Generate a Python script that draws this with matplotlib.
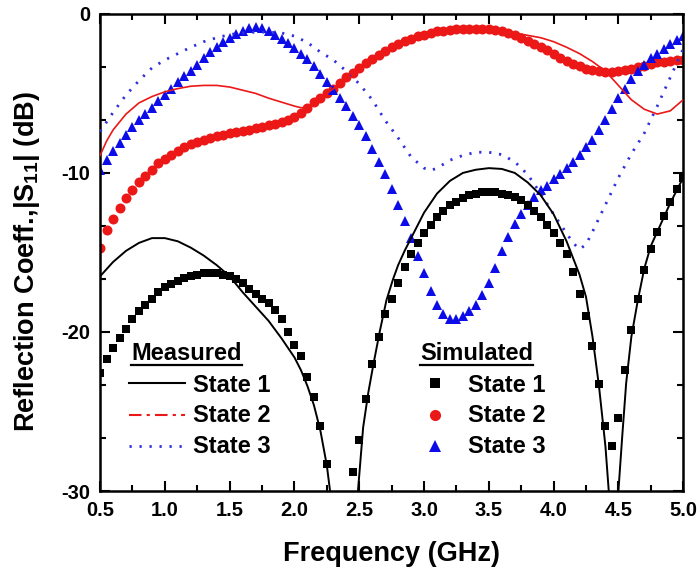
import numpy as np
import matplotlib
matplotlib.use("Agg")
import matplotlib.pyplot as plt
from matplotlib.ticker import MultipleLocator, AutoMinorLocator, FormatStrFormatter
from matplotlib.lines import Line2D

plt.rcParams["font.family"] = ["Liberation Sans", "DejaVu Sans"]
plt.rcParams["font.weight"] = "bold"
plt.rcParams["axes.unicode_minus"] = False
plt.rcParams["mathtext.fontset"] = "custom"
plt.rcParams["mathtext.rm"] = "Liberation Sans:bold"
plt.rcParams["mathtext.bf"] = "Liberation Sans:bold"
plt.rcParams["mathtext.it"] = "Liberation Sans:bold:italic"

# ---------------- simulated |S11| (dB), sweep 0.5 - 5.0 GHz, 0.05 GHz step
sim_freq = np.linspace(0.5, 5.0, 91)

sim_state1 = [
    -22.6, -21.7, -21.0, -20.4, -19.8, -19.2, -18.7, -18.3, -17.9, -17.5,
    -17.2, -17.0, -16.8, -16.6, -16.5, -16.4, -16.3, -16.3, -16.3, -16.4,
    -16.5, -16.7, -16.9, -17.3, -17.6, -17.9, -18.2, -18.6, -19.2, -20.0,
    -20.8, -21.5, -22.8, -24.1, -25.9, -28.3, -31.5, -34.0, -32.0, -28.8,
    -26.8, -24.2, -22.0, -20.3, -18.9, -17.9, -16.9, -15.9, -15.1, -14.4,
    -13.8, -13.3, -12.8, -12.4, -12.0, -11.8, -11.6, -11.4, -11.3, -11.2,
    -11.2, -11.2, -11.3, -11.4, -11.5, -11.7, -12.0, -12.4, -12.8, -13.3,
    -13.8, -14.4, -15.1, -16.2, -17.6, -19.0, -20.9, -23.3, -25.9, -27.2,
    -25.4, -22.4, -19.9, -17.9, -16.1, -14.8, -13.7, -12.7, -11.8, -11.0,
    -10.3,
]

sim_state2 = [
    -14.7, -13.6, -12.9, -12.2, -11.6, -11.1, -10.6, -10.2, -9.8, -9.4,
    -9.1, -8.85, -8.6, -8.4, -8.2, -8.05, -7.9, -7.8, -7.7, -7.6,
    -7.5, -7.45, -7.35, -7.3, -7.2, -7.1, -7.0, -6.9, -6.8, -6.65,
    -6.5, -6.25, -5.9, -5.55, -5.3, -5.0, -4.7, -4.35, -4.0, -3.7,
    -3.4, -3.1, -2.85, -2.6, -2.35, -2.1, -1.9, -1.7, -1.55, -1.4,
    -1.3, -1.2, -1.1, -1.05, -1.0, -0.97, -0.95, -0.94, -0.94, -0.95,
    -0.98, -1.02, -1.1, -1.2, -1.35, -1.5, -1.7, -1.9, -2.1, -2.3,
    -2.5, -2.75, -2.95, -3.15, -3.3, -3.45, -3.55, -3.6, -3.65, -3.65,
    -3.6, -3.55, -3.45, -3.35, -3.25, -3.15, -3.05, -3.0, -2.95, -2.9,
    -2.9,
]

sim_state3 = [
    -9.8, -9.2, -8.6, -8.1, -7.6, -7.1, -6.7, -6.3, -5.9, -5.5,
    -5.1, -4.7, -4.3, -3.9, -3.6, -3.2, -2.8, -2.4, -2.1, -1.8,
    -1.5, -1.25, -1.05, -0.9, -0.85, -0.9, -1.05, -1.3, -1.55, -1.85,
    -2.15, -2.5, -2.85, -3.3, -3.8, -4.3, -4.8, -5.3, -5.8, -6.4,
    -7.0, -7.7, -8.5, -9.3, -10.1, -11.0, -12.0, -13.0, -14.1, -15.2,
    -16.3, -17.4, -18.3, -18.9, -19.2, -19.2, -19.0, -18.7, -18.3, -17.7,
    -16.9, -16.0, -14.9, -14.0, -13.2, -12.6, -12.0, -11.5, -11.1, -10.8,
    -10.4, -10.1, -9.7, -9.3, -8.9, -8.4, -7.9, -7.3, -6.7, -6.0,
    -5.3, -4.7, -4.1, -3.6, -3.2, -2.8, -2.5, -2.2, -1.9, -1.65,
    -1.4,
]

# ---------------- measured |S11| (dB)
meas1_freq = [
    0.50, 0.60, 0.70, 0.80, 0.90, 1.00, 1.10, 1.20, 1.30, 1.40,
    1.50, 1.60, 1.70, 1.80, 1.90, 2.00, 2.05, 2.10, 2.15, 2.20,
    2.25, 2.29, 2.38, 2.48, 2.50, 2.53, 2.57, 2.61, 2.66, 2.71,
    2.76, 2.80, 2.85, 2.90, 2.95, 3.00, 3.05, 3.10, 3.20, 3.30,
    3.40, 3.50, 3.60, 3.70, 3.80, 3.90, 4.00, 4.10, 4.20, 4.25,
    4.30, 4.35, 4.40, 4.43, 4.46, 4.49, 4.50, 4.53, 4.56, 4.60,
    4.65, 4.70, 4.75, 4.80, 4.85, 4.90, 4.95, 5.00,
]
meas1_db = [
    -16.5, -15.6, -14.9, -14.4, -14.1, -14.1, -14.3, -14.7, -15.2, -15.8,
    -16.5, -17.5, -18.4, -19.3, -20.4, -21.6, -22.4, -23.4, -24.6, -26.2,
    -28.4, -31.0, -40.0, -31.0, -29.0, -26.0, -23.8, -22.0, -19.9, -18.0,
    -16.7, -15.8, -14.9, -14.1, -13.3, -12.5, -11.9, -11.3, -10.5, -10.0,
    -9.8, -9.7, -9.75, -10.0, -10.6, -11.4, -12.6, -14.3, -16.4, -17.8,
    -20.3, -23.4, -27.2, -30.5, -35.0, -31.0, -30.0, -26.5, -23.2, -20.3,
    -18.0, -16.0, -14.6, -13.7, -12.8, -11.9, -11.1, -10.3,
]

meas2_freq = [
    0.50, 0.55, 0.60, 0.70, 0.80, 0.90, 1.00, 1.10, 1.20, 1.30,
    1.40, 1.50, 1.60, 1.70, 1.80, 1.90, 2.00, 2.05, 2.10, 2.15,
    2.20, 2.30, 2.40, 2.50, 2.60, 2.70, 2.80, 2.90, 3.00, 3.10,
    3.20, 3.30, 3.40, 3.50, 3.60, 3.70, 3.80, 3.90, 4.00, 4.10,
    4.20, 4.30, 4.40, 4.50, 4.60, 4.70, 4.80, 4.90, 5.00,
]
meas2_db = [
    -8.9, -8.0, -7.3, -6.3, -5.6, -5.2, -4.9, -4.7, -4.55, -4.5,
    -4.5, -4.6, -4.8, -5.0, -5.3, -5.55, -5.8, -5.9, -5.9, -5.6,
    -5.3, -4.7, -4.0, -3.4, -2.85, -2.35, -1.9, -1.55, -1.3, -1.1,
    -1.0, -0.95, -0.93, -0.97, -1.05, -1.2, -1.35, -1.5, -1.75, -2.1,
    -2.5, -3.0, -3.6, -4.5, -5.4, -6.0, -6.3, -6.1, -5.4,
]

meas3_freq = [
    0.50, 0.55, 0.60, 0.70, 0.80, 0.90, 1.00, 1.10, 1.20, 1.30,
    1.40, 1.50, 1.60, 1.70, 1.80, 1.90, 2.00, 2.10, 2.20, 2.30,
    2.40, 2.50, 2.60, 2.70, 2.80, 2.90, 3.00, 3.05, 3.10, 3.20,
    3.30, 3.40, 3.50, 3.60, 3.70, 3.80, 3.90, 4.00, 4.10, 4.15,
    4.20, 4.25, 4.30, 4.40, 4.50, 4.60, 4.70, 4.80, 4.90, 5.00,
]
meas3_db = [
    -7.4, -6.8, -6.2, -5.1, -4.2, -3.4, -2.9, -2.5, -2.1, -1.75,
    -1.5, -1.3, -1.2, -1.15, -1.15, -1.2, -1.4, -1.8, -2.4, -2.9,
    -3.6, -4.4, -5.4, -6.7, -7.8, -9.0, -9.7, -9.85, -9.7, -9.2,
    -8.9, -8.7, -8.7, -8.85, -9.3, -10.1, -11.3, -12.6, -13.8, -14.4,
    -14.8, -14.5, -13.7, -12.0, -10.3, -8.8, -7.5, -5.8, -4.0, -2.2,
]

state_labels = ["State 1", "State 2", "State 3"]

RED = "#ec1717"
BLUE = "#0c0ce8"
DOT_BLUE = "#3030dc"
DOTTED = (0, (0.8, 2.8))
DASHDOT = (0, (6, 2.5, 1.5, 2.5))

fig = plt.figure(figsize=(7.0, 5.77), dpi=100)
ax = fig.add_axes([0.143, 0.149, 0.833, 0.827])

# simulated results as markers
ax.plot(sim_freq, sim_state2, ls="none", marker="o", ms=7.2, color=RED,
        mec=RED, mew=0, zorder=2)
ax.plot(sim_freq, sim_state3, ls="none", marker="^", ms=7.8, color=BLUE,
        mec=BLUE, mew=0, zorder=2)
ax.plot(sim_freq, sim_state1, ls="none", marker="s", ms=5.9, color="black",
        mec="black", mew=0, zorder=3)

# measured results as lines
ax.plot(meas3_freq, meas3_db, color=DOT_BLUE, lw=2.0, ls=DOTTED, zorder=4)
ax.plot(meas2_freq, meas2_db, color=RED, lw=1.2, zorder=4)
ax.plot(meas1_freq, meas1_db, color="black", lw=1.4, zorder=5)

ax.set_xlim(0.5, 5.0)
ax.set_ylim(-30, 0)

ax.xaxis.set_major_locator(MultipleLocator(0.5))
ax.xaxis.set_minor_locator(AutoMinorLocator(2))
ax.xaxis.set_major_formatter(FormatStrFormatter("%.1f"))
ax.yaxis.set_major_locator(MultipleLocator(10))
ax.yaxis.set_minor_locator(AutoMinorLocator(3))
ax.yaxis.set_major_formatter(FormatStrFormatter("%d"))

ax.tick_params(which="both", direction="in", top=True, right=True,
               width=1.5, labelsize=14.5, pad=7)
ax.tick_params(which="major", length=7)
ax.tick_params(which="minor", length=4)
for lab in ax.get_xticklabels() + ax.get_yticklabels():
    lab.set_fontweight("bold")
for sp in ax.spines.values():
    sp.set_linewidth(1.8)

ax.set_xlabel("Frequency (GHz)", fontsize=19.5, fontweight="bold")
ax.set_ylabel(r"Reflection Coeff.,|S$_\mathbf{11}$| (dB)", fontsize=19.5,
              fontweight="bold")
ax.xaxis.set_label_coords(0.5, -0.104)
ax.yaxis.set_label_coords(-0.10, 0.48)

# ---------------- two-column key
LEG_FS = 17
row_text_y = [0.2075, 0.1447, 0.0797]
row_mark_y = [0.2264, 0.1593, 0.0943]

meas_head = ax.text(0.0532, 0.2746, "Measured", transform=ax.transAxes,
                    fontsize=LEG_FS, fontweight="bold", va="baseline",
                    ha="left", zorder=6)
sim_head = ax.text(0.549, 0.2746, "Simulated", transform=ax.transAxes,
                   fontsize=LEG_FS, fontweight="bold", va="baseline",
                   ha="left", zorder=6)

meas_styles = [dict(color="black", lw=1.5, ls="-"),
               dict(color=RED, lw=1.5, ls=DASHDOT),
               dict(color=DOT_BLUE, lw=2.0, ls=DOTTED)]
sim_styles = [dict(marker="s", ms=7.0, color="black"),
              dict(marker="o", ms=8.0, color=RED),
              dict(marker="^", ms=8.5, color=BLUE)]

for lbl, ty, my, mst, sst in zip(state_labels, row_text_y, row_mark_y,
                                 meas_styles, sim_styles):
    ax.add_line(Line2D([0.0497, 0.1458], [my, my], transform=ax.transAxes,
                       zorder=6, **mst))
    ax.text(0.1595, ty, lbl, transform=ax.transAxes, fontsize=LEG_FS,
            fontweight="bold", va="baseline", ha="left", zorder=6)
    ax.add_line(Line2D([0.5746], [my], transform=ax.transAxes, ls="none",
                       mew=0, zorder=6, **sst))
    ax.text(0.631, ty, lbl, transform=ax.transAxes, fontsize=LEG_FS,
            fontweight="bold", va="baseline", ha="left", zorder=6)

# underline the two headings
fig.canvas.draw()
renderer = fig.canvas.get_renderer()
inv = ax.transAxes.inverted()
for head in (meas_head, sim_head):
    bb = head.get_window_extent(renderer)
    (x0, _), (x1, _) = inv.transform([[bb.x0, bb.y0], [bb.x1, bb.y1]])
    ax.add_line(Line2D([x0, x1], [0.2635, 0.2635], transform=ax.transAxes,
                       color="black", lw=1.6, zorder=6))

fig.savefig("out.png", dpi=100)
